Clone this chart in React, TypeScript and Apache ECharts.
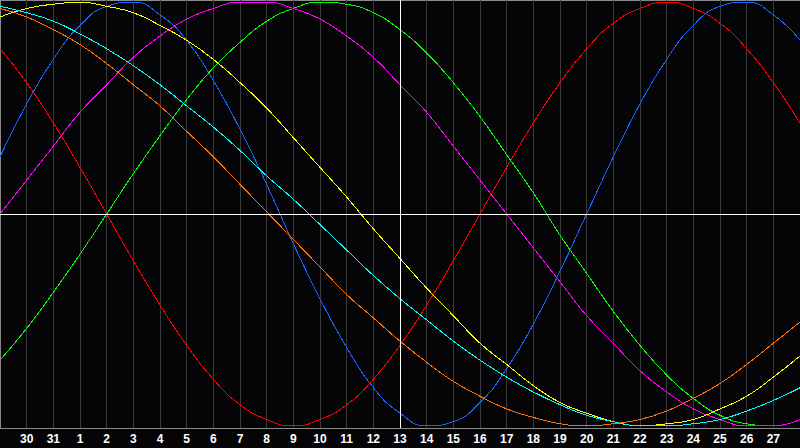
import React, { useEffect, useRef } from "react";
import * as echarts from "echarts";

const days = ["29", "30", "31", "1", "2", "3", "4", "5", "6", "7", "8", "9", "10", "11", "12", "13", "14", "15", "16", "17", "18", "19", "20", "21", "22", "23", "24", "25", "26", "27", "28"];

const physical = [27, 52, 73, 89, 98, 100, 94, 82, 63, 40, 14, -14, -40, -63, -82, -94, -100, -98, -89, -73, -52, -27, 0, 27, 52, 73, 89, 98, 100, 94, 82];
const emotional = [78, 62, 43, 22, 0, -22, -43, -62, -78, -90, -97, -100, -97, -90, -78, -62, -43, -22, 0, 22, 43, 62, 78, 90, 97, 100, 97, 90, 78, 62, 43];
const intellectual = [-69, -54, -37, -19, 0, 19, 37, 54, 69, 81, 91, 97, 100, 99, 95, 87, 76, 62, 46, 28, 10, -10, -28, -46, -62, -76, -87, -95, -99, -100, -97];
const intuitive = [0, 16, 32, 48, 61, 74, 84, 92, 97, 100, 100, 97, 92, 84, 74, 61, 48, 32, 16, 0, -16, -32, -48, -61, -74, -84, -92, -97, -100, -100, -97];
const aesthetic = [93, 97, 99, 100, 98, 95, 89, 82, 73, 62, 50, 36, 22, 8, -7, -21, -35, -48, -61, -71, -81, -89, -94, -98, -100, -99, -97, -92, -86, -77, -67];
const awareness = [97, 93, 87, 80, 71, 61, 51, 39, 27, 14, 1, -12, -25, -38, -49, -60, -70, -79, -86, -92, -96, -99, -100, -99, -97, -93, -87, -80, -71, -61, -51];
const spiritual = [98, 95, 91, 85, 78, 70, 61, 51, 41, 30, 18, 7, -5, -17, -29, -40, -50, -60, -69, -77, -84, -90, -95, -98, -100, -100, -99, -97, -93, -88, -82];

const seriesDefs = [
  { name: "Physical", data: physical, color: "#1464ff" },
  { name: "Emotional", data: emotional, color: "#ff0000" },
  { name: "Intellectual", data: intellectual, color: "#00ff00" },
  { name: "Intuitive", data: intuitive, color: "#ff00ff" },
  { name: "Awareness", data: awareness, color: "#ff7000" },
  { name: "Aesthetic", data: aesthetic, color: "#ffff00" },
  { name: "Spiritual", data: spiritual, color: "#00ffff" },
];

export default function App() {
  const ref = useRef<HTMLDivElement>(null);
  useEffect(() => {
    if (!ref.current) return;
    const chart = echarts.init(ref.current, undefined, { renderer: "svg" });
    const lines: any[] = seriesDefs.map((s) => ({
      name: s.name,
      type: "line",
      data: s.data,
      smooth: true,
      showSymbol: false,
      symbol: "none",
      lineStyle: { color: s.color, width: 1 },
      itemStyle: { color: s.color },
      silent: true,
    }));
    lines.unshift({
      type: "line",
      data: [],
      silent: true,
      markLine: {
        silent: true,
        symbol: "none",
        label: { show: false },
        lineStyle: { color: "#ffffff", width: 1, type: "solid" },
        data: [{ xAxis: 15 }, { yAxis: 0 }],
      },
    });
    chart.setOption({
      animation: false,
      backgroundColor: "#050508",
      grid: {
        left: 0,
        right: 0,
        top: 0,
        bottom: 20,
        show: true,
        borderColor: "#8a8a8a",
        borderWidth: 1,
        backgroundColor: "transparent",
      },
      xAxis: {
        type: "category",
        data: days,
        boundaryGap: false,
        axisLine: { show: true, lineStyle: { color: "#8a8a8a", width: 1 } },
        axisTick: { show: false },
        axisLabel: {
          color: "#ffffff",
          fontFamily: "Liberation Sans",
          fontWeight: "bold",
          fontSize: 12,
          margin: 5,
          interval: (index: number) => index > 0 && index < days.length - 1,
        },
        splitLine: { show: true, lineStyle: { color: "#3a3a3a", width: 1 } },
      },
      yAxis: {
        type: "value",
        min: -101,
        max: 101,
        show: true,
        axisLine: { show: false },
        axisTick: { show: false },
        axisLabel: { show: false },
        splitLine: { show: false },
      },
      series: lines,
    });
    return () => chart.dispose();
  }, []);
  return (
    <>
      <style>{"#root svg path { shape-rendering: crispEdges; }"}</style>
      <div
        ref={ref}
        style={{ position: "fixed", left: 0, top: 0, width: 800, height: 448 }}
      />
    </>
  );
}
